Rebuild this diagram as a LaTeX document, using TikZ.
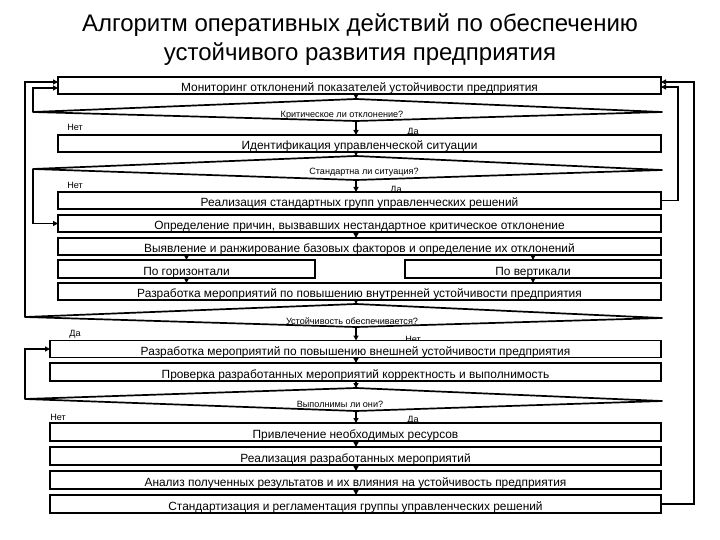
\documentclass[tikz,border=0pt]{standalone}
\usepackage{fontspec}
\setmainfont{Liberation Sans}
\usetikzlibrary{arrows.meta}
\begin{document}
\begin{tikzpicture}[x=1pt,y=-1pt,
  boxn/.style={draw, line width=1.7pt, fill=white, outer sep=0pt, inner xsep=0pt, inner ysep=1.5pt,
    text height=13pt, text depth=0.5pt, font=\fontsize{11.9}{12}\selectfont},
  dia/.style={draw, line width=1.7pt, fill=white, line join=round},
  dtext/.style={font=\fontsize{9.1}{10}\selectfont, inner sep=0pt},
  lbl/.style={font=\fontsize{9.1}{10}\selectfont, inner sep=0pt},
  arr/.style={line width=1.6pt, -{Triangle[length=5pt,width=5pt]}},
  ln/.style={line width=1.6pt}
]
\useasboundingbox (0,0) rectangle (720,540);
\fill[white] (0,0) rectangle (720,540);

% title
\node[font=\fontsize{24}{29}\selectfont, align=center] (title) at (360,40)
  {Алгоритм оперативных действий по обеспечению\\устойчивого развития предприятия};

\coordinate (cx) at (356,0);

% diamonds
\coordinate (d1L) at (33,112); \coordinate (d1T) at (356,99); \coordinate (d1R) at (662,112); \coordinate (d1B) at (356,121);
\coordinate (d2L) at (33,169); \coordinate (d2T) at (356,156); \coordinate (d2R) at (662,170); \coordinate (d2B) at (356,180);
\coordinate (d3L) at (25,317); \coordinate (d3T) at (356,304); \coordinate (d3R) at (662,318); \coordinate (d3B) at (356,327);
\coordinate (d4L) at (25,399); \coordinate (d4T) at (356,388); \coordinate (d4R) at (662,401); \coordinate (d4B) at (356,411);
\draw[dia] (d1L) -- (d1T) -- (d1R) -- (d1B) -- cycle;
\draw[dia] (d2L) -- (d2T) -- (d2R) -- (d2B) -- cycle;
\draw[dia] (d3L) -- (d3T) -- (d3R) -- (d3B) -- cycle;
\draw[dia] (d4L) -- (d4T) -- (d4R) -- (d4B) -- cycle;
\node[dtext] (d1t) at (342,115.5) {Критическое ли отклонение?};
\node[dtext] (d2t) at (364,172.5) {Стандартна ли ситуация?};
\node[dtext] (d3t) at (352,321) {Устойчивость обеспечивается?};
\node[dtext] (d4t) at (340,404) {Выполнимы ли они?};

% labels
\node[lbl] (n1) at (75,127) {Нет};
\node[lbl] (y1) at (413,132) {Да};
\node[lbl] (n2) at (75,185) {Нет};
\node[lbl] (y2) at (396,190) {Да};
\node[lbl] (y3) at (75,334) {Да};
\node[lbl] (n3) at (413,339) {Нет};
\node[lbl] (n4) at (58,417) {Нет};
\node[lbl] (y4) at (413,420) {Да};

% boxes
\node[boxn, minimum width=603pt, minimum height=17pt] (b1) at (359.5,85.5) {Мониторинг отклонений показателей устойчивости предприятия};
\node[boxn, minimum width=603pt, minimum height=17pt] (b2) at (359.5,143.5) {Идентификация управленческой ситуации};
\node[boxn, minimum width=603pt, minimum height=17pt] (b3) at (359.5,200.5) {Реализация стандартных групп управленческих решений};
\node[boxn, minimum width=603pt, minimum height=17pt] (b4) at (359.5,223.5) {Определение причин, вызвавших нестандартное критическое отклонение};
\node[boxn, minimum width=603pt, minimum height=17pt] (b5) at (359.5,246.5) {Выявление и ранжирование базовых факторов и определение их отклонений};
\node[boxn, minimum width=257pt, minimum height=18pt] (b6a) at (186.5,269) {По горизонтали};
\node[boxn, minimum width=256pt, minimum height=18pt] (b6b) at (533,269) {По вертикали};
\node[boxn, minimum width=603pt, minimum height=17pt] (b7) at (359.5,291.5) {Разработка мероприятий по повышению внутренней устойчивости предприятия};
\node[boxn, minimum width=611pt, minimum height=17pt] (b8) at (355.5,349) {Разработка мероприятий по повышению внешней устойчивости предприятия};
\node[boxn, minimum width=611pt, minimum height=18pt] (b9) at (355.5,372) {Проверка разработанных мероприятий корректность и выполнимость};
\node[boxn, minimum width=611pt, minimum height=18pt] (b10) at (355.5,432) {Привлечение необходимых ресурсов};
\node[boxn, minimum width=611pt, minimum height=18pt] (b11) at (355.5,456) {Реализация разработанных мероприятий};
\node[boxn, minimum width=611pt, minimum height=18pt] (b12) at (355.5,480) {Анализ полученных результатов и их влияния на устойчивость предприятия};
\node[boxn, minimum width=611pt, minimum height=18pt] (b13) at (355.5,504) {Стандартизация и регламентация группы управленческих решений};

% vertical arrows
\draw[arr] (b1.south -| cx) -- (d1T);
\draw[arr] (d1B) -- (b2.north -| cx);
\draw[arr] (b2.south -| cx) -- (d2T);
\draw[arr] (d2B) -- (b3.north -| cx);
\draw[arr] (b4.south -| cx) -- (b5.north -| cx);
\draw[arr] (b6a.north |- b5.south) -- (b6a.north);
\draw[arr] (b6b.north |- b5.south) -- (b6b.north);
\draw[arr] (b6a.south) -- (b6a.south |- b7.north);
\draw[arr] (b6b.south) -- (b6b.south |- b7.north);
\draw[arr] (b7.south -| cx) -- (d3T);
\draw[arr] (d3B) -- (b8.north -| cx);
\draw[arr] (b8.south -| cx) -- (b9.north -| cx);
\draw[arr] (b9.south -| cx) -- (d4T);
\draw[arr] (d4B) -- (b10.north -| cx);
\draw[arr] (b10.south -| cx) -- (b11.north -| cx);
\draw[arr] (b11.south -| cx) -- (b12.north -| cx);
\draw[arr] (b12.south -| cx) -- (b13.north -| cx);

% feedback loops
\coordinate (lin) at (33,88);
\coordinate (lout) at (25,82);
\coordinate (rin) at (678,87);
\coordinate (rout) at (694,82);
\draw[arr] (d1L) -- (lin) -- (lin -| b1.west);
\draw[arr] (d3L) -- (lout) -- (lout -| b1.west);
\draw[arr] (d2L) |- (b4.west);
\draw[arr] (d4L) |- (b8.west);
\draw[arr] (b3.east) -| (rin) -- (rin -| b1.east);
\draw[arr] (b13.east) -| (rout) -- (rout -| b1.east);
\end{tikzpicture}
\end{document}
